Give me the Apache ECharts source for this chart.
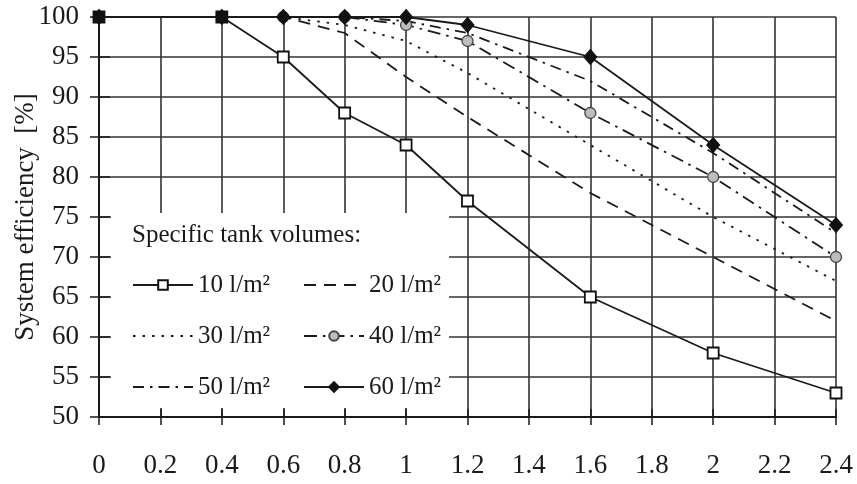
<!DOCTYPE html>
<html>
<head>
<meta charset="utf-8">
<script src="https://cdn.jsdelivr.net/npm/echarts@6/dist/echarts.min.js"></script>
<style>
html,body{margin:0;padding:0;background:#fff;}
#chart{width:857px;height:484px;}
</style>
</head>
<body>
<div id="chart"></div>
<script>
// ---- data ----
const xValues = [0, 0.4, 0.6, 0.8, 1.0, 1.2, 1.6, 2.0, 2.4];
const eff10 = [100, 100, 95, 88, 84, 77, 65, 58, 53];
const eff20 = [100, 100, 100, 98, 92.5, 87.5, 78, 70, 62];
const eff30 = [100, 100, 100, 99, 97, 93, 84, 75, 67];
const eff40 = [100, 100, 100, 100, 99, 97, 88, 80, 70];
const eff50 = [100, 100, 100, 100, 99.5, 98, 92, 83, 73];
const eff60 = [100, 100, 100, 100, 100, 99, 95, 84, 74];
const seriesNames = ['10 l/m²', '20 l/m²', '30 l/m²', '40 l/m²', '50 l/m²', '60 l/m²'];
const filledSquareX = [0, 0.4];
const noMarkerNames = ['20 l/m²', '30 l/m²', '50 l/m²'];
const yAxisTitle = 'System efficiency  [%]';
const legendTitle = 'Specific tank volumes:';

const FONT = '"Liberation Serif", "DejaVu Serif", serif';
const INK = '#1a1a1a';

function pairs(ys) { return xValues.map((x, i) => [x, ys[i]]); }
function legendItems(names) {
  return names.map(n => noMarkerNames.includes(n)
    ? {name: n, itemStyle: {opacity: 0}}
    : {name: n});
}

const chart = echarts.init(document.getElementById('chart'), null, {renderer: 'canvas'});

const fmtX = v => String(+(+v).toFixed(1));

const legendCommon = {
  orient: 'vertical', top: 265, itemWidth: 60, itemHeight: 12, itemGap: 21,
  selectedMode: false,
  textStyle: {color: INK, fontFamily: FONT, fontSize: 25, lineHeight: 30},
  z: 10
};

const option = {
  animation: false,
  backgroundColor: '#fff',
  grid: {left: 99, right: 21, top: 17, bottom: 67, containLabel: false, outerBoundsMode: 'none'},
  xAxis: [{
    type: 'value', min: 0, max: 2.4, interval: 0.2,
    axisLine: {show: true, onZero: false, lineStyle: {color: INK, width: 2}},
    axisTick: {show: true, inside: false, length: 8, lineStyle: {color: INK, width: 1.5}},
    splitLine: {show: true, lineStyle: {color: '#333', width: 1.6}},
    axisLabel: {color: INK, fontFamily: FONT, fontSize: 27, margin: 35, formatter: fmtX}
  }, {
    type: 'value', min: 0, max: 2.4, interval: 0.2, position: 'bottom',
    axisLine: {show: false},
    axisTick: {show: true, inside: true, length: 8, lineStyle: {color: INK, width: 1.5}},
    splitLine: {show: false}, axisLabel: {show: false}
  }],
  yAxis: [{
    type: 'value', min: 50, max: 100, interval: 5,
    name: yAxisTitle, nameLocation: 'middle', nameGap: 60, nameMoveOverlap: false,
    nameTextStyle: {color: INK, fontFamily: FONT, fontSize: 27},
    axisLine: {show: true, onZero: false, lineStyle: {color: INK, width: 2}},
    axisTick: {show: true, inside: false, length: 9, lineStyle: {color: INK, width: 1.5}},
    splitLine: {show: true, lineStyle: {color: '#333', width: 1.6}},
    axisLabel: {color: INK, fontFamily: FONT, fontSize: 27, margin: 20}
  }, {
    type: 'value', min: 50, max: 100, interval: 5, position: 'left',
    axisLine: {show: false},
    axisTick: {show: true, inside: true, length: 11, lineStyle: {color: INK, width: 1.5}},
    splitLine: {show: false}, axisLabel: {show: false}
  }],
  legend: [
    Object.assign({}, legendCommon, {left: 127, data: legendItems([seriesNames[0], seriesNames[2], seriesNames[4]])}),
    Object.assign({}, legendCommon, {left: 298, data: legendItems([seriesNames[1], seriesNames[3], seriesNames[5]])})
  ],
  graphic: [{
    type: 'rect', left: 111, top: 213, z: 3,
    shape: {width: 338, height: 195},
    style: {fill: '#fff'}
  }, {
    type: 'text', left: 132, top: 223, z: 5,
    style: {text: legendTitle, fill: INK, font: '25px ' + FONT}
  }],
  series: [
    {
      name: seriesNames[1], type: 'line', data: pairs(eff20), symbol: 'none',
      lineStyle: {color: INK, width: 1.8, type: [12, 8]}, itemStyle: {color: INK}, z: 2
    },
    {
      name: seriesNames[2], type: 'line', data: pairs(eff30), symbol: 'none',
      lineStyle: {color: INK, width: 1.8, type: [2.5, 7]}, itemStyle: {color: INK}, z: 2
    },
    {
      name: seriesNames[4], type: 'line', data: pairs(eff50), symbol: 'none',
      lineStyle: {color: INK, width: 1.8, type: [11, 6, 2.5, 6]}, itemStyle: {color: INK}, z: 2
    },
    {
      name: seriesNames[3], type: 'line', data: pairs(eff40),
      symbol: 'circle', symbolSize: 11,
      lineStyle: {color: INK, width: 1.8, type: [13, 6, 2.5, 6]},
      itemStyle: {color: '#bdbdbd', borderColor: '#444', borderWidth: 1.3}, z: 3
    },
    {
      name: seriesNames[5], type: 'line', data: pairs(eff60),
      symbol: 'diamond', symbolSize: [13, 15],
      lineStyle: {color: INK, width: 1.8, type: 'solid'},
      itemStyle: {color: '#111', borderColor: '#111', borderWidth: 1}, z: 4
    },
    {
      name: seriesNames[0], type: 'line',
      data: xValues.map((x, i) => filledSquareX.includes(x)
        ? {value: [x, eff10[i]], itemStyle: {color: '#111'}}
        : {value: [x, eff10[i]]}),
      symbol: 'rect', symbolSize: 11,
      lineStyle: {color: INK, width: 1.8, type: 'solid'},
      itemStyle: {color: '#fff', borderColor: '#111', borderWidth: 1.8}, z: 5
    }
  ]
};

chart.setOption(option);
</script>
</body>
</html>
